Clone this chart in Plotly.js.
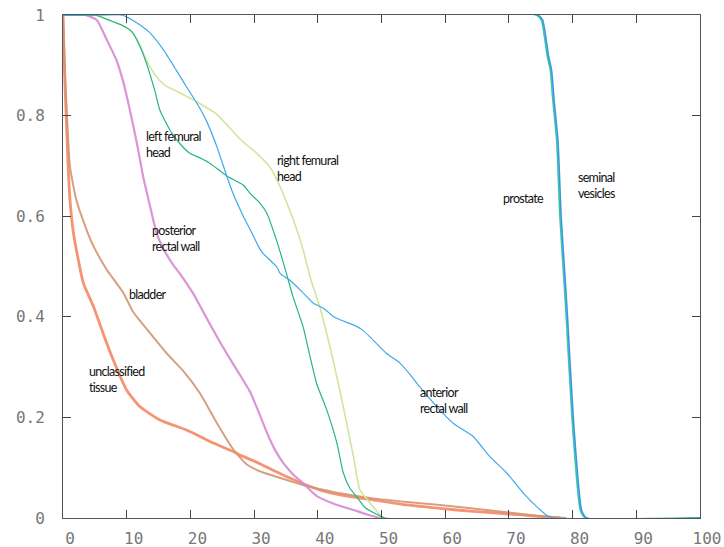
<!DOCTYPE html>
<html>
<head>
<meta charset="utf-8">
<script src="https://cdn.plot.ly/plotly-3.0.1.min.js"></script>
<style>
  html, body { margin: 0; padding: 0; background: #fff; }
  #chart { width: 724px; height: 547px; }
  .annotation-text { letter-spacing: -0.7px; }
</style>
</head>
<body>
<div id="chart"></div>
<script>
// ---- Data (dose % vs. fractional volume) ----
const unclassifiedX = [0, 0.2, 0.5, 0.8, 1.1, 1.6, 2.1, 3.2, 4.8, 6.3, 7.9, 10.0, 12.1, 15.2, 19.4, 23.6, 26.7, 27.8, 30.9, 33.0, 35.5, 38.3, 40.5, 43.5, 48.7, 54.0, 59.2, 64.4, 70.0, 74.0, 77.0, 78.0];
const unclassifiedY = [1, 0.9, 0.8, 0.7, 0.632, 0.57, 0.533, 0.467, 0.42, 0.367, 0.314, 0.254, 0.221, 0.195, 0.175, 0.149, 0.132, 0.125, 0.108, 0.095, 0.08, 0.065, 0.055, 0.046, 0.036, 0.026, 0.019, 0.013, 0.008, 0.004, 0.001, 0];

const bladderX = [0, 0.2, 0.4, 0.6, 1.1, 2.1, 3.7, 4.8, 6.9, 9.5, 11.0, 13.7, 16.3, 18.9, 21.5, 24.1, 26.7, 27.8, 28.8, 30.9, 33.0, 35.5, 38.3, 40.5, 43.5, 48.7, 54.0, 59.2, 64.4, 70.0, 74.0, 77.0, 79.0];
const bladderY = [1, 0.93, 0.86, 0.805, 0.698, 0.632, 0.573, 0.54, 0.493, 0.447, 0.41, 0.367, 0.327, 0.292, 0.248, 0.19, 0.137, 0.12, 0.107, 0.093, 0.084, 0.074, 0.063, 0.057, 0.049, 0.039, 0.032, 0.026, 0.019, 0.011, 0.005, 0.002, 0];

const posteriorX = [0, 3.5, 5.3, 6.9, 8.4, 9.5, 10.5, 11.6, 12.6, 13.7, 14.7, 16.0, 17.3, 18.4, 20.5, 22.0, 24.1, 25.7, 27.8, 29.4, 30.9, 32.0, 33.3, 34.6, 36.0, 37.7, 39.8, 42.4, 45.6, 48.0, 49.8];
const posteriorY = [1, 1, 0.99, 0.95, 0.91, 0.865, 0.811, 0.745, 0.678, 0.618, 0.566, 0.53, 0.503, 0.485, 0.445, 0.41, 0.362, 0.327, 0.284, 0.25, 0.205, 0.17, 0.135, 0.109, 0.088, 0.069, 0.044, 0.029, 0.016, 0.006, 0];

const rightFemX = [0, 5.0, 7.4, 9.2, 10.8, 12.1, 13.1, 14.7, 16.0, 18.4, 20.5, 22.0, 24.1, 25.5, 27.3, 28.5, 30.4, 32.5, 34.1, 35.5, 36.7, 37.7, 39.0, 40.3, 42.4, 44.0, 45.6, 46.6, 48.2, 49.8, 50.5, 100];
const rightFemY = [1, 1, 0.989, 0.98, 0.967, 0.94, 0.91, 0.877, 0.86, 0.845, 0.831, 0.82, 0.803, 0.785, 0.76, 0.745, 0.725, 0.698, 0.658, 0.615, 0.573, 0.533, 0.47, 0.42, 0.314, 0.221, 0.122, 0.056, 0.03, 0.006, 0, 0];

const leftFemX = [0, 5.0, 7.4, 9.2, 10.8, 12.1, 13.1, 14.4, 15.2, 16.8, 18.3, 19.9, 21.5, 23.1, 25.7, 28.3, 29.4, 30.9, 32.0, 33.5, 34.3, 35.1, 36.1, 37.7, 38.8, 39.8, 41.4, 43.0, 44.0, 45.0, 46.1, 47.5, 49.8, 50.5, 100];
const leftFemY = [1, 1, 0.989, 0.98, 0.967, 0.937, 0.904, 0.85, 0.811, 0.771, 0.745, 0.725, 0.716, 0.705, 0.68, 0.662, 0.645, 0.626, 0.606, 0.553, 0.52, 0.485, 0.44, 0.38, 0.32, 0.268, 0.215, 0.149, 0.09, 0.06, 0.042, 0.02, 0.004, 0, 0];

const anteriorX = [0, 9.2, 11.5, 13.7, 15.8, 17.8, 19.5, 21.0, 22.5, 24.1, 25.7, 26.7, 28.3, 29.4, 30.9, 31.4, 33.5, 34.1, 35.6, 37.5, 39.3, 40.9, 42.5, 43.5, 45.6, 47.0, 48.2, 50.8, 52.9, 54.5, 56.0, 58.7, 61.3, 64.4, 67.0, 69.7, 72.3, 74.4, 76.2, 77.0, 100];
const anteriorY = [1, 1, 0.985, 0.964, 0.93, 0.89, 0.855, 0.825, 0.79, 0.74, 0.68, 0.645, 0.6, 0.573, 0.535, 0.526, 0.5, 0.486, 0.473, 0.45, 0.427, 0.417, 0.4, 0.394, 0.384, 0.374, 0.36, 0.327, 0.308, 0.285, 0.261, 0.221, 0.188, 0.162, 0.122, 0.089, 0.049, 0.022, 0.003, 0, 0];

const prostateX = [0, 74.3, 75.1, 76.0, 76.5, 76.9, 77.5, 78.0, 78.5, 79.0, 79.9, 81.2, 82.0, 100];
const prostateY = [1, 1, 0.99, 0.92, 0.89, 0.83, 0.75, 0.6, 0.5, 0.4, 0.2, 0.016, 0, 0];

const seminalX = [0, 74.5, 75.3, 76.2, 76.7, 77.1, 77.7, 78.2, 78.7, 79.2, 80.1, 81.4, 82.2, 100];
const seminalY = [1, 1, 0.99, 0.92, 0.89, 0.83, 0.75, 0.6, 0.5, 0.4, 0.2, 0.016, 0, 0];

const xTickVals = [0, 10, 20, 30, 40, 50, 60, 70, 80, 90, 100];
const yTickVals = [0, 0.2, 0.4, 0.6, 0.8, 1];
const yTickText = ["0", "0.2", "0.4", "0.6", "0.8", "1"];

// structure labels with anchor points (data coordinates)
const labelText = ["left femural<br>head", "right femural<br>head", "posterior<br>rectal wall", "bladder", "unclassified<br>tissue", "anterior<br>rectal wall", "prostate", "seminal<br>vesicles"];
const labelX = [12.87, 33.44, 13.77, 10.25, 3.97, 55.93, 68.9, 80.64];
const labelY = [0.7425, 0.695, 0.556, 0.445, 0.276, 0.234, 0.636, 0.6605];

function line(x, y, name, color, width) {
  return { x: x, y: y, name: name, type: 'scatter', mode: 'lines',
           line: { color: color, width: width, shape: 'spline', smoothing: 0.5 },
           hoverinfo: 'skip' };
}

const traces = [
  line(unclassifiedX, unclassifiedY, 'unclassified tissue', 'rgba(244,128,92,0.85)', 2.8),
  line(bladderX, bladderY, 'bladder', 'rgba(210,150,112,0.9)', 2),
  line(posteriorX, posteriorY, 'posterior rectal wall', 'rgba(214,138,210,0.9)', 2.2),
  line(rightFemX, rightFemY, 'right femural head', '#d0e69c', 1.6),
  line(leftFemX, leftFemY, 'left femural head', '#25b48a', 1.2),
  line(anteriorX, anteriorY, 'anterior rectal wall', '#3ea8ec', 1.2),
  line(prostateX, prostateY, 'prostate', '#3cc8a8', 1.6),
  line(seminalX, seminalY, 'seminal vesicles', '#3a96e0', 1.6)
];

const annotations = labelText.map((t, i) => ({
  x: labelX[i], y: labelY[i], xref: 'x', yref: 'y', text: t,
  showarrow: false, xanchor: 'left', yanchor: 'middle', align: 'left',
  font: { family: 'Lato, "Noto Sans", sans-serif', size: 12.5, color: '#111' },
  borderpad: 0
}));

const tickFont = { family: '"DejaVu Sans Mono", monospace', size: 16, color: '#777' };

const layout = {
  width: 724, height: 547,
  margin: { l: 63, r: 24, t: 15, b: 29, pad: 0 },
  paper_bgcolor: '#fff', plot_bgcolor: '#fff',
  showlegend: false,
  xaxis: {
    range: [0, 100], tickvals: xTickVals, ticktext: xTickVals.map(String),
    ticks: 'inside', ticklen: 8, tickcolor: '#444', tickwidth: 1,
    showline: true, linecolor: '#555', linewidth: 1, mirror: 'ticks',
    showgrid: false, zeroline: false, tickfont: tickFont,
    ticklabelstandoff: 6, ticklabelshift: 7
  },
  yaxis: {
    range: [0, 1], tickvals: yTickVals, ticktext: yTickText,
    ticks: 'inside', ticklen: 8, tickcolor: '#444', tickwidth: 1,
    showline: true, linecolor: '#555', linewidth: 1, mirror: 'ticks',
    showgrid: false, zeroline: false, tickfont: tickFont,
    ticklabelstandoff: 14
  },
  annotations: annotations
};

Plotly.newPlot('chart', traces, layout, { staticPlot: true, displayModeBar: false });
</script>
</body>
</html>
